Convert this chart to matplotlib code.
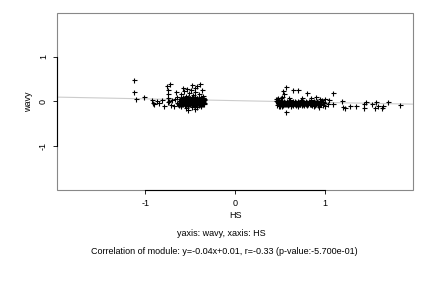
import numpy as np
import matplotlib
matplotlib.use('Agg')
import matplotlib.pyplot as plt
from matplotlib.patches import Rectangle

plt.rcParams['font.family'] = ['Liberation Sans', 'DejaVu Sans']
plt.rcParams['font.size'] = 6.5
plt.rcParams['axes.unicode_minus'] = False

# negative HS group: sparse points on the left
hs_a = [-1.12, -1.12, -1.10, -1.01, -0.92, -0.91, -0.90, -0.87, -0.84, -0.81,
        -0.79, -0.76, -0.75, -0.75, -0.74, -0.74, -0.73, -0.72, -0.71, -0.70,
        -0.68, -0.67, -0.66, -0.65, -0.64, -0.63]
wavy_a = [0.47, 0.20, 0.04, 0.09, 0.02, -0.04, -0.07, 0.00, -0.05, 0.03,
          -0.12, 0.33, 0.24, 0.15, 0.07, -0.03, 0.00, 0.38, -0.08, 0.02,
          -0.11, 0.05, 0.20, -0.04, 0.10, -0.06]

# negative HS group: dense core
hs_b = [-0.62, -0.60, -0.58, -0.56, -0.54, -0.52, -0.50, -0.48, -0.46, -0.44, -0.42, -0.40, -0.38, -0.36,
        -0.61, -0.59, -0.57, -0.55, -0.53, -0.51, -0.49, -0.47, -0.45, -0.43, -0.41, -0.39, -0.37, -0.35,
        -0.62, -0.60, -0.58, -0.56, -0.54, -0.52, -0.50, -0.48, -0.46, -0.44, -0.42, -0.40, -0.38, -0.36,
        -0.61, -0.59, -0.57, -0.55, -0.53, -0.51, -0.49, -0.47, -0.45, -0.43, -0.41, -0.39, -0.37, -0.35,
        -0.60, -0.58, -0.56, -0.54, -0.52, -0.50, -0.48, -0.46, -0.44, -0.42, -0.40, -0.38, -0.36,
        -0.61, -0.59, -0.57, -0.55, -0.53, -0.51, -0.49, -0.47, -0.45, -0.43, -0.41, -0.39, -0.37, -0.35,
        -0.60, -0.58, -0.56, -0.54, -0.52, -0.50, -0.48, -0.46, -0.44, -0.42, -0.40, -0.38, -0.36,
        -0.59, -0.57, -0.55, -0.53, -0.51, -0.49, -0.47, -0.45, -0.43, -0.41, -0.39, -0.37, -0.35,
        -0.58, -0.56, -0.54, -0.52, -0.50, -0.48, -0.46, -0.44, -0.42, -0.40, -0.38, -0.36,
        -0.60, -0.57, -0.55, -0.53, -0.51, -0.49, -0.47, -0.45, -0.44, -0.42, -0.40, -0.39, -0.37, -0.36,
        -0.58, -0.48,
        -0.55, -0.52, -0.48, -0.45, -0.42, -0.38, -0.60]
wavy_b = [-0.08, -0.09, -0.07, -0.08, -0.09, -0.08, -0.07, -0.09, -0.08, -0.07, -0.08, -0.09, -0.08, -0.07,
          -0.04, -0.03, -0.05, -0.04, -0.03, -0.04, -0.05, -0.04, -0.03, -0.04, -0.05, -0.04, -0.03, -0.04,
          0.00, 0.01, -0.01, 0.00, 0.01, 0.00, -0.01, 0.00, 0.01, 0.00, -0.01, 0.00, 0.01, 0.00,
          0.04, 0.05, 0.03, 0.04, 0.05, 0.04, 0.03, 0.05, 0.04, 0.03, 0.05, 0.04, 0.03, 0.04,
          0.08, 0.09, 0.07, 0.08, 0.09, 0.08, 0.10, 0.08, 0.09, 0.07, 0.08, 0.09, 0.08,
          -0.06, -0.06, -0.05, -0.06, -0.07, -0.06, -0.05, -0.06, -0.07, -0.06, -0.05, -0.06, -0.07, -0.06,
          -0.02, -0.02, -0.01, -0.02, -0.03, -0.02, -0.01, -0.02, -0.03, -0.02, -0.01, -0.02, -0.02,
          0.02, 0.02, 0.03, 0.02, 0.01, 0.02, 0.03, 0.02, 0.01, 0.02, 0.03, 0.02, 0.02,
          0.06, 0.06, 0.05, 0.06, 0.07, 0.06, 0.05, 0.06, 0.07, 0.06, 0.05, 0.06,
          0.15, 0.22, 0.12, 0.28, 0.18, 0.25, 0.14, 0.30, 0.20, 0.33, 0.17, 0.38, 0.24, 0.12,
          0.30, 0.35,
          -0.15, -0.19, -0.14, -0.18, -0.13, -0.12, -0.12]

# positive HS group: dense band
hs_c = [0.47, 0.50, 0.53, 0.56, 0.59, 0.62, 0.65, 0.68, 0.71, 0.74, 0.77, 0.80, 0.83, 0.86, 0.89, 0.92, 0.95, 0.98,
        0.48, 0.51, 0.54, 0.57, 0.60, 0.63, 0.66, 0.69, 0.72, 0.75, 0.78, 0.81, 0.84, 0.87, 0.90, 0.93, 0.96, 0.99,
        0.47, 0.50, 0.53, 0.56, 0.59, 0.62, 0.65, 0.68, 0.71, 0.74, 0.77, 0.80, 0.83, 0.86, 0.89, 0.92, 0.95, 0.98,
        0.46, 0.49, 0.52, 0.55, 0.58, 0.61, 0.64, 0.67, 0.70, 0.73, 0.76, 0.79, 0.82, 0.85, 0.88, 0.91, 0.94, 0.97,
        0.485, 0.515, 0.545, 0.575, 0.605, 0.635, 0.665, 0.695, 0.725, 0.755, 0.785, 0.815, 0.845, 0.875, 0.905,
        0.475, 0.505, 0.535, 0.565, 0.595, 0.625, 0.655, 0.685, 0.715, 0.745, 0.775, 0.805, 0.835, 0.865, 0.895,
        0.46, 0.48, 0.50, 0.52, 0.47, 0.49, 0.51]
wavy_c = [-0.08, -0.09, -0.08, -0.07, -0.08, -0.09, -0.08, -0.08, -0.07, -0.08, -0.09, -0.08, -0.07, -0.08, -0.09, -0.08, -0.07, -0.08,
          -0.05, -0.04, -0.05, -0.06, -0.05, -0.04, -0.05, -0.05, -0.06, -0.05, -0.04, -0.05, -0.06, -0.05, -0.04, -0.05, -0.06, -0.05,
          -0.02, -0.01, -0.02, -0.03, -0.02, -0.01, -0.02, -0.02, -0.03, -0.02, -0.01, -0.02, -0.03, -0.02, -0.01, -0.02, -0.03, -0.02,
          0.01, 0.02, 0.01, 0.00, 0.01, 0.02, 0.01, 0.00, 0.01, 0.02, 0.01, 0.00, 0.01, 0.02, 0.01, 0.00, 0.01, 0.02,
          -0.065, -0.07, -0.065, -0.06, -0.065, -0.07, -0.065, -0.06, -0.065, -0.07, -0.065, -0.06, -0.065, -0.07, -0.065,
          -0.035, -0.03, -0.035, -0.04, -0.035, -0.03, -0.035, -0.04, -0.035, -0.03, -0.035, -0.04, -0.035, -0.03, -0.035,
          0.05, 0.06, -0.11, -0.12, 0.04, -0.12, 0.06]

# positive HS group: scatter and tail
hs_d = [0.53, 0.57, 0.55, 0.52, 0.64, 0.70, 0.80, 0.60, 0.75, 0.85, 0.90, 0.95, 1.00, 1.05,
        0.57, 0.62, 0.70, 0.88, 0.93, 1.00, 1.03,
        1.09, 1.09, 1.19, 1.20, 1.22, 1.28, 1.35, 1.43, 1.44, 1.46, 1.52, 1.56, 1.57,
        1.59, 1.63, 1.65, 1.70, 1.83]
wavy_d = [0.22, 0.31, 0.15, 0.10, 0.24, 0.24, 0.18, 0.08, 0.06, 0.07, 0.10, 0.05, 0.04, 0.02,
          -0.25, -0.12, -0.10, -0.12, -0.14, -0.10, -0.06,
          0.18, -0.07, 0.00, -0.13, -0.16, -0.11, -0.11, -0.07, -0.16, -0.02, -0.07, -0.16, -0.02,
          -0.11, -0.16, -0.11, -0.02, -0.09]

slope = -0.04
intercept = 0.01

hs = hs_a + hs_b + hs_c + hs_d
wavy = wavy_a + wavy_b + wavy_c + wavy_d

fig = plt.figure(figsize=(4.32, 2.88), dpi=100)
ax = fig.add_axes([0.132, 0.340, 0.824, 0.615])

ax.axline((0, intercept), slope=slope, color='#cccccc', lw=0.8, zorder=1)
ax.plot(hs, wavy, '+', color='black', ms=3.6, mew=0.8, zorder=2)

ax.set_xlim(-1.98, 1.98)
ax.set_ylim(-2.0, 1.98)
ax.set_xticks([-1, 0, 1])
ax.set_yticks([-1, 0, 1])
ax.set_yticklabels(['-1', '0', '1'], rotation=90, va='center')
ax.tick_params(length=3, width=0.6, pad=3.5, labelsize=6.5)

for side in ['top', 'right']:
    ax.spines[side].set_visible(False)
ax.spines['left'].set_bounds(-1, 1)
ax.spines['bottom'].set_bounds(-1, 1)
ax.spines['left'].set_linewidth(0.8)
ax.spines['bottom'].set_linewidth(0.8)
ax.add_patch(Rectangle((0, 0), 1, 1, transform=ax.transAxes, fill=False,
                       edgecolor='#888888', lw=0.8, clip_on=False, zorder=0))

ax.set_xlabel('HS', labelpad=2)
ax.set_ylabel('wavy', labelpad=4)

fig.text(0.513, 0.19, 'yaxis: wavy, xaxis: HS', ha='center', va='center')
fig.text(0.52, 0.128, 'Correlation of module: y=-0.04x+0.01, r=-0.33 (p-value:-5.700e-01)',
         ha='center', va='center')

fig.savefig('out.png', dpi=100)
